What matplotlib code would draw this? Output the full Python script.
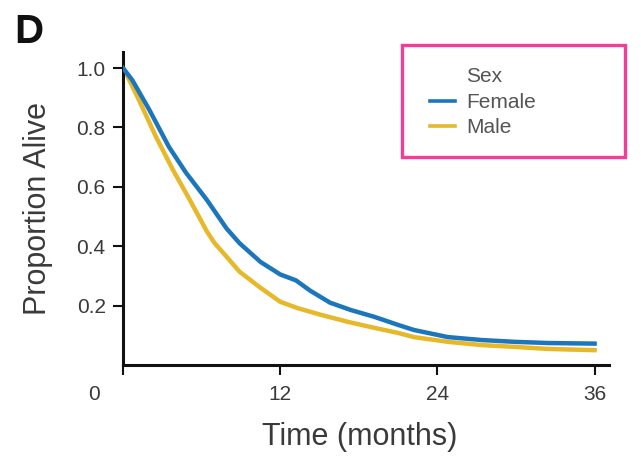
import matplotlib
matplotlib.use("Agg")
import matplotlib.pyplot as plt
from matplotlib.lines import Line2D
from matplotlib.patches import Rectangle
import matplotlib.transforms as mtransforms

# Data (months, proportion alive)
female_t = [0, 0.7, 2.0, 3.5, 4.8, 6.4, 7.9, 8.9, 10.5, 12.0, 13.2, 14.3, 15.8, 17.4,
            19.2, 21.0, 22.2, 24.8, 27.4, 29.9, 32.5, 36.0]
female_p = [1.0, 0.96, 0.86, 0.735, 0.648, 0.556, 0.46, 0.41, 0.347, 0.305, 0.285, 0.25, 0.21, 0.185,
            0.162, 0.135, 0.118, 0.094, 0.084, 0.078, 0.074, 0.072]
male_t = [0, 0.2, 1.2, 2.5, 3.8, 5.1, 6.4, 7.0, 7.9, 8.9, 10.5, 12.0, 13.3, 15.1, 17.2,
          19.2, 21.0, 22.2, 24.8, 27.4, 29.9, 32.5, 36.0]
male_p = [1.0, 0.985, 0.894, 0.77, 0.658, 0.556, 0.45, 0.41, 0.365, 0.314, 0.26, 0.213, 0.192, 0.169, 0.145,
          0.125, 0.108, 0.094, 0.078, 0.067, 0.061, 0.054, 0.05]

x_ticks = [0, 12, 24, 36]
y_ticks = [0.2, 0.4, 0.6, 0.8, 1.0]
series_labels = ["Female", "Male"]
legend_title = "Sex"

blue = "#1c76bc"
gold = "#e6b82a"
txt = "#3a3a3a"

plt.rcParams['font.family'] = ['Liberation Sans', 'DejaVu Sans']

fig = plt.figure(figsize=(6.41, 4.68), dpi=100)
ax = fig.add_axes([123/641, 1-365/468, (609-123)/641, (365-52)/468])

ax.plot(female_t, female_p, color=blue, lw=3.2, solid_joinstyle='round', zorder=3)
ax.plot(male_t, male_p, color=gold, lw=3.2, solid_joinstyle='round', zorder=2)

ax.set_xlim(0, 37.1)
ax.set_ylim(0, 1.054)
ax.set_xticks(x_ticks)
ax.set_xticklabels([str(v) for v in x_ticks])
ax.set_yticks(y_ticks)
ax.set_yticklabels([f"{v:.1f}" for v in y_ticks])

for s in ['top', 'right']:
    ax.spines[s].set_visible(False)
for s in ['left', 'bottom']:
    ax.spines[s].set_linewidth(2.2)
    ax.spines[s].set_color('#111111')
ax.tick_params(axis='both', direction='out', length=7.5, width=1.5, color='#111111',
               labelsize=15, labelcolor=txt)
ax.tick_params(axis='y', pad=5)
ax.tick_params(axis='x', pad=7)

# shift the "0" tick label left as in the reference
lbl0 = ax.get_xticklabels()[0]
lbl0.set_transform(lbl0.get_transform() + mtransforms.ScaledTranslation(-29/100, 0, fig.dpi_scale_trans))

ax.set_xlabel("Time (months)", fontsize=22, color=txt)
ax.set_ylabel("Proportion Alive", fontsize=22, color=txt)
ax.xaxis.set_label_coords((360-123)/486, (365-422)/313)
ax.yaxis.set_label_coords((53-123)/486, 0.5)

# legend
handles = [Line2D([], [], color='none'),
           Line2D([], [], color=blue, lw=2.6),
           Line2D([], [], color=gold, lw=2.6)]
leg = fig.legend(handles, [legend_title] + series_labels, loc='upper left',
                 bbox_to_anchor=(430/641, 1-67.5/468), frameon=False, fontsize=15,
                 handlelength=1.2, handletextpad=0.55, labelspacing=0.31,
                 borderaxespad=0, borderpad=0)
for t in leg.get_texts():
    t.set_color('#555555')

fig.patches.append(Rectangle((402/641, 1-157/468), (625-402)/641, (157-45)/468,
                             transform=fig.transFigure, fill=False,
                             edgecolor='#f53d97', lw=2.4, zorder=10))

fig.text(14/641, 1-43/468, "D", fontsize=29, fontweight='bold', color='#111111',
         va='baseline', ha='left')

fig.savefig("out.png", dpi=100)
